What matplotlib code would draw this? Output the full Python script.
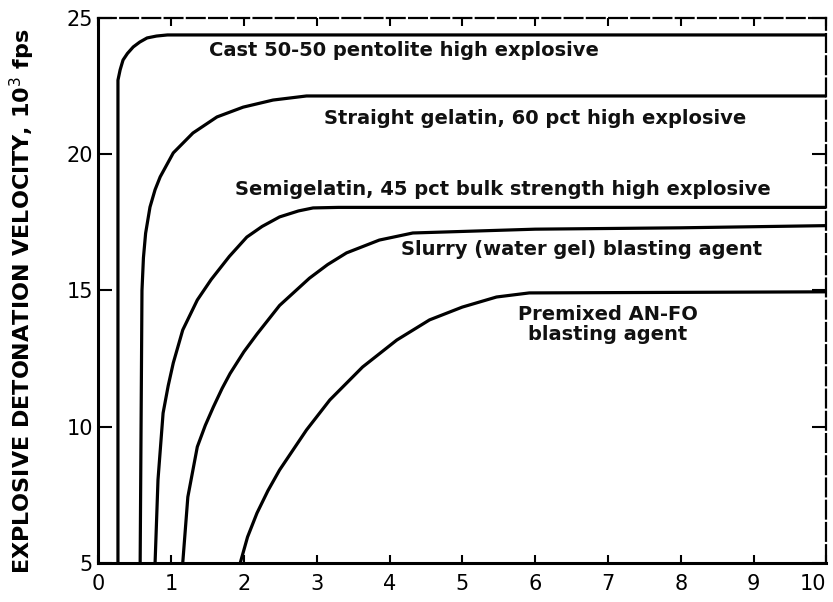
import matplotlib
matplotlib.use("Agg")
import matplotlib.pyplot as plt

# valores (diametro en pulgadas, velocidad en 10^3 fps)
pentolite_x = [0.27, 0.27, 0.30, 0.34, 0.40, 0.48, 0.57, 0.67, 0.80, 0.95, 10.0]
pentolite_y = [5.0, 22.72, 23.1, 23.46, 23.7, 23.94, 24.12, 24.27, 24.34, 24.38, 24.38]

gelatin_x = [0.575, 0.60, 0.62, 0.65, 0.71, 0.78, 0.85, 1.03, 1.30, 1.63, 1.99, 2.40, 2.86, 10.0]
gelatin_y = [5.0, 15.0, 16.2, 17.1, 18.06, 18.7, 19.17, 20.05, 20.78, 21.37, 21.73, 21.99, 22.14, 22.14]

semigel_x = [0.78, 0.82, 0.89, 0.96, 1.03, 1.16, 1.36, 1.55, 1.80, 2.04, 2.25, 2.49, 2.75, 2.95, 3.30, 10.0]
semigel_y = [5.0, 8.05, 10.5, 11.5, 12.34, 13.55, 14.65, 15.4, 16.25, 16.96, 17.35, 17.7, 17.92, 18.03, 18.05, 18.05]

slurry_x = [1.16, 1.23, 1.36, 1.47, 1.58, 1.70, 1.81, 2.00, 2.18, 2.49, 2.90, 3.15, 3.41, 3.86, 4.32, 6.0, 8.0, 10.0]
slurry_y = [5.0, 7.42, 9.26, 10.05, 10.72, 11.4, 11.95, 12.75, 13.4, 14.45, 15.45, 15.95, 16.38, 16.85, 17.11, 17.25, 17.3, 17.38]

anfo_x = [1.95, 2.05, 2.18, 2.33, 2.49, 2.86, 3.18, 3.63, 4.10, 4.55, 5.00, 5.47, 5.92, 10.0]
anfo_y = [5.0, 5.95, 6.83, 7.65, 8.41, 9.88, 10.98, 12.19, 13.18, 13.92, 14.39, 14.76, 14.91, 14.95]

labels = [
    "Cast 50-50 pentolite high explosive",
    "Straight gelatin, 60 pct high explosive",
    "Semigelatin, 45 pct bulk strength high explosive",
    "Slurry (water gel) blasting agent",
    "Premixed AN-FO\nblasting agent",
]
label_x = [4.2, 6.0, 5.56, 6.64, 7.0]
label_y = [23.8, 21.33, 18.69, 16.52, 13.75]

x_ticks = list(range(0, 11))
y_ticks = [5, 10, 15, 20, 25]

fig = plt.figure(figsize=(8.33, 6.02), dpi=100)
ax = fig.add_axes([0.118, 0.065, 0.874, 0.905])

for xs, ys in [(pentolite_x, pentolite_y), (gelatin_x, gelatin_y),
               (semigel_x, semigel_y), (slurry_x, slurry_y), (anfo_x, anfo_y)]:
    ax.plot(xs, ys, color="black", lw=2.3, solid_joinstyle="round")

for txt, tx, ty in zip(labels, label_x, label_y):
    ax.text(tx, ty, txt, ha="center", va="center", fontsize=14,
            fontweight="bold", color="#111111", linespacing=1.1)

ax.set_xlim(0, 10)
ax.set_ylim(5, 25)
ax.set_xticks(x_ticks)
ax.set_yticks(y_ticks)
ax.tick_params(axis="both", direction="in", length=8, width=1.5,
               labelsize=15, colors="black", pad=8)
ax.tick_params(axis="x", top=True, length=6)
ax.tick_params(axis="y", right=True, length=10, pad=4)
ax.get_xticklabels()[-1].set_horizontalalignment("right")

for side in ["left", "bottom"]:
    ax.spines[side].set_linewidth(2.2)
for side in ["top", "right"]:
    ax.spines[side].set_linewidth(1.6)
    ax.spines[side].set_linestyle((0, (8, 2)))

fig.text(0.027, 0.5, "EXPLOSIVE DETONATION VELOCITY, 10$^3$ fps",
         rotation=90, ha="center", va="center", fontsize=16, fontweight="bold")

fig.savefig("out.png", dpi=100, facecolor="white")
